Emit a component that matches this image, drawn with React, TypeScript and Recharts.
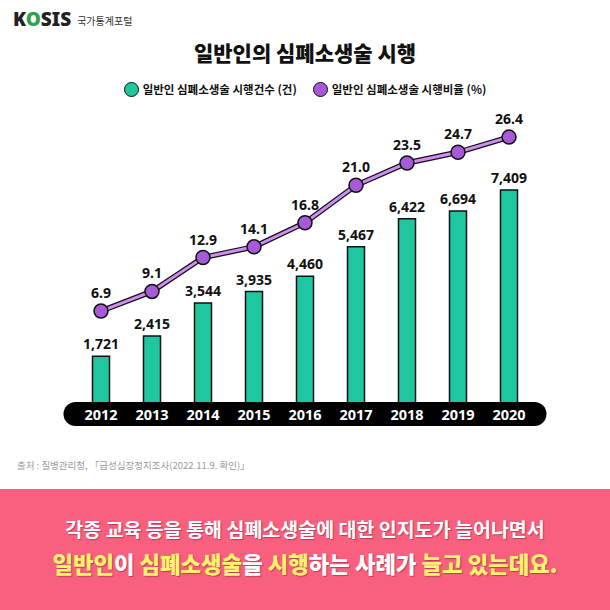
import React from 'react';
import { ComposedChart, Bar, Line, XAxis, YAxis, LabelList } from 'recharts';

const years = ['2012', '2013', '2014', '2015', '2016', '2017', '2018', '2019', '2020'];
const cprCounts = [1721, 2415, 3544, 3935, 4460, 5467, 6422, 6694, 7409];
const cprRates = [6.9, 9.1, 12.9, 14.1, 16.8, 21.0, 23.5, 24.7, 26.4];

const data = years.map((y, i) => ({ year: y, count: cprCounts[i], rate: cprRates[i] }));

const FONT = '"Noto Sans CJK KR", "Noto Sans", sans-serif';
const NUMFONT = '"Noto Sans", "Noto Sans CJK KR", sans-serif';
const GREEN = '#1fc7a0';
const PURPLE = '#a65ad8';
const LILAC = '#d08ef0';
const YELLOW = '#fff26e';

const YearTick = (props: any) => {
  const { x, y, payload } = props;
  return (
    <text x={x} y={y} textAnchor="middle" dominantBaseline="central" fill="#fff"
      style={{ fontFamily: NUMFONT, fontWeight: 700, fontSize: 14.5 }}>
      {payload.value}
    </text>
  );
};

const fmt = (v: any) => Number(v).toLocaleString('en-US');
const fmt1 = (v: any) => Number(v).toFixed(1);

const Y = ({ children }: { children: React.ReactNode }) => (
  <span style={{ color: YELLOW }}>{children}</span>
);

export default function App() {
  return (
    <div style={{ position: 'absolute', left: 0, top: 0, width: 610, height: 610, background: '#fff', overflow: 'hidden', fontFamily: FONT }}>
      {/* Logo */}
      <div style={{ position: 'absolute', left: 13, top: 6, display: 'flex', alignItems: 'center' }}>
        <span style={{ fontFamily: NUMFONT, fontWeight: 900, fontSize: 19, color: '#222', letterSpacing: 0 }}>
          K<span style={{ color: '#2aa44a' }}>O</span>SIS
        </span>
        <span style={{ fontSize: 10, color: '#333', marginLeft: 6, marginTop: 3 }}>국가통계포털</span>
      </div>
      {/* Title */}
      <div style={{ position: 'absolute', left: 0, top: 37, width: 610, textAlign: 'center', fontSize: 21, fontWeight: 900, color: '#111' }}>
        일반인의 심폐소생술 시행
      </div>
      {/* Legend */}
      <div style={{ position: 'absolute', left: 0, top: 81, width: 610, display: 'flex', justifyContent: 'center', alignItems: 'center', fontSize: 11.5, fontWeight: 700, color: '#111' }}>
        <span style={{ display: 'inline-block', width: 13, height: 13, borderRadius: '50%', background: GREEN, border: '1.5px solid #111', marginRight: 4 }} />
        <span>일반인 심폐소생술 시행건수 (건)</span>
        <span style={{ display: 'inline-block', width: 13, height: 13, borderRadius: '50%', background: PURPLE, border: '1.5px solid #111', marginLeft: 16, marginRight: 4 }} />
        <span>일반인 심폐소생술 시행비율 (%)</span>
      </div>
      {/* Chart */}
      <div style={{ position: 'absolute', left: 0, top: 0 }}>
        <ComposedChart width={610} height={460} data={data}
          margin={{ top: 100, right: 75.5, bottom: 16, left: 75.5 }}>
          <YAxis yAxisId="count" hide domain={[-253, 10486]} allowDataOverflow />
          <YAxis yAxisId="rate" hide domain={[-4.64, 30.56]} allowDataOverflow orientation="right" />
          <Bar yAxisId="count" dataKey="count" fill={GREEN} stroke="#111" strokeWidth={1.5} barSize={17} isAnimationActive={false}>
            <LabelList dataKey="count" position="top" offset={7} formatter={fmt}
              style={{ fontFamily: NUMFONT, fontWeight: 700, fontSize: 14, fill: '#111' }} />
          </Bar>
          <Line yAxisId="rate" dataKey="rate" stroke="#111" strokeWidth={5.5} dot={false} activeDot={false} isAnimationActive={false} />
          <Line yAxisId="rate" dataKey="rate" stroke={LILAC} strokeWidth={3} isAnimationActive={false}
            dot={{ r: 7, fill: PURPLE, stroke: '#111', strokeWidth: 1.5 }} activeDot={false}>
            <LabelList dataKey="rate" position="top" offset={13} formatter={fmt1}
              style={{ fontFamily: NUMFONT, fontWeight: 700, fontSize: 14, fill: '#111' }} />
          </Line>
          <XAxis dataKey="year" height={30} tickLine={false} tickSize={0} tickMargin={0}
            axisLine={{ stroke: '#000', strokeWidth: 24, strokeLinecap: 'round' }}
            tick={<YearTick />} interval={0} />
        </ComposedChart>
      </div>
      {/* Source */}
      <div style={{ position: 'absolute', left: 17, top: 458, fontSize: 9.5, color: '#9a9a9a' }}>
        출처 : 질병관리청, 「급성심장정지조사(2022.11.9. 확인)」
      </div>
      {/* Pink box */}
      <div style={{ position: 'absolute', left: 0, top: 489, width: 610, height: 121, background: '#f9607f' }}>
        <div style={{ position: 'absolute', left: 0, top: 25, width: 610, textAlign: 'center', color: '#fff', fontSize: 19.5, fontWeight: 700, textShadow: '1px 1px 1px rgba(120,30,50,0.5)', letterSpacing: 0 }}>
          각종 교육 등을 통해 심폐소생술에 대한 인지도가 늘어나면서
        </div>
        <div style={{ position: 'absolute', left: 0, top: 58, width: 610, textAlign: 'center', color: '#fff', fontSize: 22.3, fontWeight: 900, textShadow: '1px 1px 1px rgba(120,30,50,0.5)', letterSpacing: 0 }}>
          <Y>일반인</Y>이 <Y>심폐소생술</Y>을 <Y>시행</Y>하는 사례가 <Y>늘고 있는데요.</Y>
        </div>
      </div>
    </div>
  );
}
